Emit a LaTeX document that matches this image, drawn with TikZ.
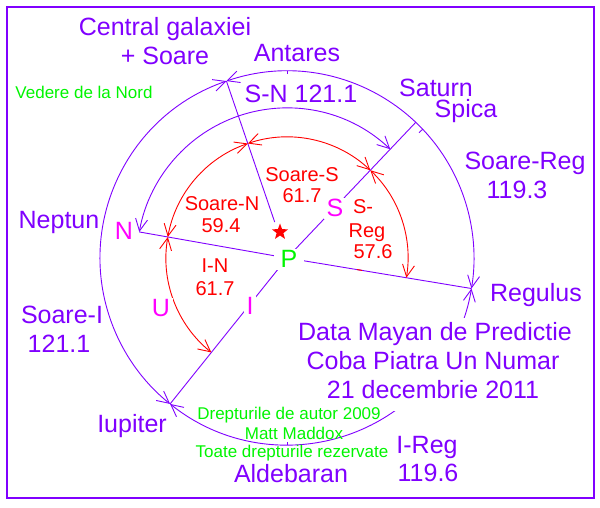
\documentclass[tikz,border=0pt]{standalone}
\usepackage{fontspec}
\setmainfont{Liberation Sans}
\usetikzlibrary{arrows.meta,shapes.geometric}
\definecolor{pur}{RGB}{128,0,255}
\definecolor{mag}{RGB}{255,0,255}
\definecolor{grn}{RGB}{0,245,0}
\definecolor{rd}{RGB}{255,0,0}
\begin{document}
\begin{tikzpicture}[x=1pt,y=1pt,
  big/.style={text=pur, font=\fontsize{25}{29}\selectfont, anchor=base, inner sep=0pt},
  rlab/.style={text=rd, font=\fontsize{20}{23}\selectfont, anchor=base, inner sep=0pt},
  glab/.style={text=grn, font=\fontsize{17}{20}\selectfont, anchor=base, inner sep=0pt},
  mlab/.style={text=mag, font=\fontsize{25}{29}\selectfont, anchor=base, fill=white, inner xsep=3pt, inner ysep=2pt},
  wbox/.style={fill=white, inner xsep=3pt, inner ysep=3pt},
  arr/.style={line width=0.9pt, {Straight Barb[length=12pt,width=12pt]}-{Straight Barb[length=12pt,width=12pt]}},
  ln/.style={line width=0.9pt}
]
\useasboundingbox (0,0) rectangle (600,508);
\fill[white] (0,0) rectangle (600,508);
\draw[pur, line width=1.2pt] (7,10) rectangle (594,501);

\coordinate (O) at (287,250);
\begin{scope}[shift={(O)}]
  \coordinate (GCo) at (108.9:187);
  \coordinate (GCi) at (108.9:38);
  \coordinate (Sat) at (46.5:187);
  \coordinate (Iup) at (231.3:187);
  \coordinate (Nm) at (170:150);
  \coordinate (mS) at (46.5:150);
  \coordinate (Reg) at (-9.4:187);
  \coordinate (rReg) at (-9.4:121);
  \coordinate (rS) at (46.5:121);
  \coordinate (rGC) at (108.9:121);
  \coordinate (rN) at (170:121);
  \coordinate (tA1) at (90:187);   \coordinate (tA2) at (90:184);
  \coordinate (tS1) at (43.5:187); \coordinate (tS2) at (43.5:182);
  \coordinate (tB1) at (270:187);  \coordinate (tB2) at (270:184);
  \coordinate (tR1) at (-9.4:71);  \coordinate (tR2) at (-9.4:76);
\end{scope}

% rays
\draw[pur,ln] (GCi) -- (GCo);
\draw[pur,ln] (O) -- (Sat);
\draw[pur,ln] (O) -- (Iup);
\draw[pur,ln] (O) -- (Nm);
\draw[pur,ln] (O) -- (Reg);
\draw[rd,line width=1pt] (tR1) -- (tR2);

% outer arcs
\draw[pur,arr] (GCo) arc[start angle=108.9, end angle=-9.4, radius=187pt];
\draw[pur,arr] (GCo) arc[start angle=108.9, end angle=231.3, radius=187pt];
\draw[pur,arr] (Iup) arc[start angle=231.3, end angle=350.6, radius=187pt];
\draw[pur,ln] (tA1) -- (tA2);
\draw[pur,ln] (tS1) -- (tS2);
\draw[pur,ln] (tB1) -- (tB2);

% middle arc
\draw[pur,arr] (mS) arc[start angle=46.5, end angle=170, radius=150pt];

% red arcs
\draw[rd,arr] (rReg) arc[start angle=-9.4, end angle=46.5, radius=121pt];
\draw[rd,arr] (rS) arc[start angle=46.5, end angle=108.9, radius=121pt];
\draw[rd,arr] (rGC) arc[start angle=108.9, end angle=170, radius=121pt];
\draw[rd,arr] (rN) arc[start angle=170, end angle=231.3, radius=121pt];

% purple labels
\node[big] (cg) at (165,472) {Central galaxiei};
\node[big] (ps) at (165,443) {+ Soare};
\node[big] (ant) at (297,446) {Antares};
\node[big] (sn) at (301,405) {S-N 121.1};
\node[big] (sat) at (436,411) {Saturn};
\node[big] (spi) at (466,390) {Spica};
\node[big] (sreg) at (525,338) {Soare-Reg};
\node[big] (sregv) at (517,309) {119.3};
\node[big,fill=white,inner xsep=2pt,inner ysep=1pt] (nep) at (59,279) {Neptun};
\node[big] (si) at (62,184) {Soare-I};
\node[big] (siv) at (59,155) {121.1};
\node[big] (iup) at (132,75) {Iupiter};
\node[big] (ald) at (291,25) {Aldebaran};
\node[big] (ireg) at (427,54) {I-Reg};
\node[big] (iregv) at (428,26) {119.6};
\node[big] (regl) at (536,206) {Regulus};
\node[big,wbox] (d1) at (435,167) {\strut Data Mayan de Predictie};
\node[big,wbox] (d2) at (433,138) {\strut Coba Piatra Un Numar};
\node[big,wbox] (d3) at (433,109) {\strut 21 decembrie 2011};

% magenta letters
\node[mlab] (nl) at (124,268) {N};
\node[mlab] (sl) at (335,291) {S};
\node[mlab] (ul) at (161,191) {U};
\node[mlab] (il) at (250,193) {I};
\node[text=grn, font=\fontsize{25}{29}\selectfont, anchor=base, fill=white, inner xsep=7pt, inner ysep=2pt] (P) at (289,240) {P};

% red labels
\node[rlab] (sn1) at (222,297) {Soare-N};
\node[rlab] (sn2) at (221,275) {59.4};
\node[rlab] (ss1) at (302,326) {Soare-S};
\node[rlab] (ss2) at (302,305) {61.7};
\node[rlab] (sr1) at (363,294) {S-};
\node[rlab] (sr2) at (367,270) {Reg};
\node[rlab] (sr3) at (373,249) {57.6};
\node[rlab] (in1) at (215,235) {I-N};
\node[rlab] (in2) at (215,212) {61.7};
\node[star, star points=5, star point ratio=2.4, fill=rd, minimum size=17pt, inner sep=0pt] (st) at (280,276) {};

% green labels
\node[glab] (ved) at (84,409) {Vedere de la Nord};
\node[glab] (c1) at (289,88) {Drepturile de autor 2009};
\node[glab] (c2) at (294,68) {Matt Maddox};
\node[glab] (c3) at (292,50) {Toate drepturile rezervate};
\end{tikzpicture}
\end{document}
